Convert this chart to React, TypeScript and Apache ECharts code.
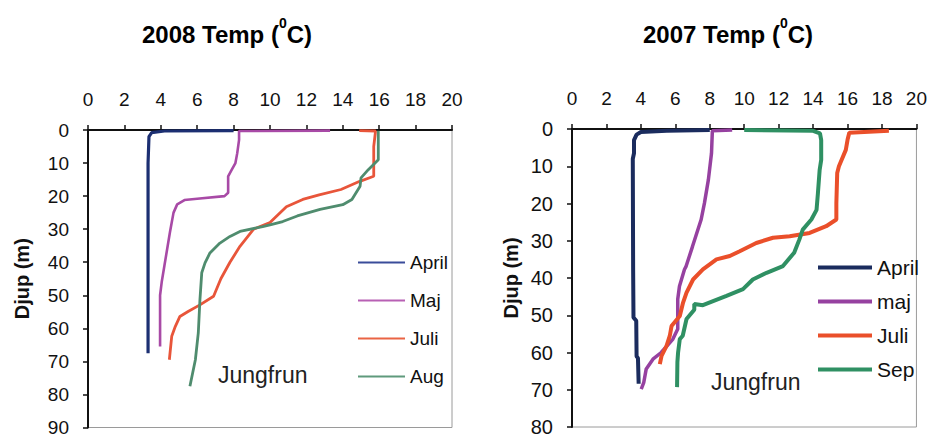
import React, { useEffect, useRef } from 'react';
import * as echarts from 'echarts';

const FONT = '"Liberation Sans", Arial, Helvetica, sans-serif';

// [temperature °C, depth m]
const april2008: number[][] = [[8.0,0.2],[4.2,0.3],[3.5,0.8],[3.35,2],[3.3,10],[3.3,67.5]];
const maj2008: number[][] = [[13.3,0.2],[8.3,0.3],[8.3,3],[8.2,7],[8.1,10],[7.9,12],[7.7,14],[7.7,19],[7.5,20],[6.0,20.8],[5.3,21.2],[4.9,22.5],[4.7,25],[4.6,28],[4.5,31],[4.35,36],[4.2,41],[4.05,46],[3.96,50],[3.96,65.5]];
const juli2008: number[][] = [[14.9,0.2],[15.8,0.3],[15.7,5],[15.7,14],[14.9,15.6],[13.9,18],[12.7,19.6],[11.8,21],[10.9,23.2],[10.0,28],[9.1,30],[8.35,35.2],[7.8,40],[7.3,45],[6.9,50.3],[6.15,52.9],[5.5,54.9],[5.05,56.4],[4.8,59.4],[4.6,62.4],[4.47,69.5]];
const aug2008: number[][] = [[15.95,0.2],[15.95,9],[15.4,12],[15.0,14.5],[14.95,17],[14.5,21],[14.0,22.6],[12.75,24],[11.5,26],[10.7,27.7],[10.0,28.7],[9.6,29.2],[8.35,30.7],[7.8,32.2],[7.25,34.2],[6.7,37.2],[6.43,40.2],[6.25,43.2],[6.15,51.4],[6.06,61.4],[5.9,69.5],[5.75,73.5],[5.6,77.5]];

const april2007: number[][] = [[8.0,0.3],[5.5,0.5],[4.0,0.8],[3.75,1.5],[3.6,3],[3.6,6.5],[3.53,8],[3.55,37.7],[3.57,50.6],[3.73,51.5],[3.75,61],[3.83,61.5],[3.87,68.4]];
const maj2007: number[][] = [[9.3,0.3],[8.15,0.5],[8.1,6.5],[7.92,13.6],[7.69,19.9],[7.5,24.3],[7.0,31.5],[6.63,36.8],[6.53,37.7],[6.24,42.2],[6.14,45.7],[6.14,53.7],[5.86,56.4],[5.18,60],[4.7,61.8],[4.31,64.4],[4.17,68],[4.02,69.8]];
const juli2007: number[][] = [[18.4,0.5],[16.1,1.0],[16.0,2.9],[15.9,5.6],[15.5,10],[15.4,11.8],[15.35,19.9],[15.35,24.3],[14.76,26.1],[13.8,27.9],[12.64,28.8],[11.67,29.2],[10.7,30.6],[9.74,32.8],[9.16,34.1],[8.39,35],[7.6,37.7],[7.03,40.4],[6.65,43.9],[6.45,46.6],[6.26,50.2],[5.78,52.9],[5.68,55.5],[5.49,58.2],[5.2,60.9],[5.1,63.1]];
const sep2007: number[][] = [[10.0,0.3],[14.0,0.5],[14.4,1.2],[14.47,3],[14.47,8.3],[14.38,11],[14.28,17.2],[14.2,21.7],[13.9,24.3],[13.4,27],[13.2,29.7],[12.9,33.2],[12.25,36.8],[11.3,38.6],[10.5,40.4],[9.93,43.0],[8.97,44.8],[7.6,47.3],[7.1,47.0],[7.1,48.5],[6.65,51],[6.43,55.5],[6.26,56.4],[6.16,60],[6.12,62.6],[6.1,69.3]];

const legend2008 = ['April', 'Maj', 'Juli', 'Aug'];
const legend2007 = ['April', 'maj', 'Juli', 'Sep'];
const colors2008 = ['#1c2f72', '#a84aa6', '#e8553a', '#4f8c6e'];
const legendColors2008 = ['#3a4c9a', '#b860b4', '#ea6444', '#5f9a7c'];
const colors2007 = ['#1b2c5e', '#9641a0', '#ea4f2a', '#2f9063'];

export default function App() {
  const ref = useRef<HTMLDivElement>(null);
  useEffect(() => {
    if (!ref.current) return;
    const chart = echarts.init(ref.current, null, { renderer: 'svg' });

    const xAxisBase = (gridIndex: number, fs: number) => ({
      type: 'value', gridIndex, position: 'top', min: 0, max: 20, interval: 2,
      axisLine: { show: true, lineStyle: { color: '#111', width: 2 } },
      axisTick: { show: true, length: 5, lineStyle: { color: '#111', width: 1.5 } },
      axisLabel: { fontFamily: FONT, fontSize: fs, color: '#111', margin: 21 },
      splitLine: { show: false },
    });
    const yAxisBase = (gridIndex: number, max: number, gap: number, fs: number) => ({
      type: 'value', gridIndex, inverse: true, min: 0, max, interval: 10,
      name: 'Djup (m)', nameLocation: 'middle', nameGap: gap,
      nameTextStyle: { fontFamily: FONT, fontSize: 20, fontWeight: 'bold', color: '#111' },
      axisLine: { show: true, lineStyle: { color: '#111', width: 2 } },
      axisTick: { show: true, length: 5, lineStyle: { color: '#111', width: 1.5 } },
      axisLabel: { fontFamily: FONT, fontSize: fs, color: '#111', margin: 19 },
      splitLine: { show: false },
    });

    const mk = (name: string, data: number[][], color: string, width: number, gi: number) => ({
      type: 'line', name, data, xAxisIndex: gi, yAxisIndex: gi,
      symbol: 'none', showSymbol: false, clip: false,
      lineStyle: { color, width }, itemStyle: { color },
    });

    const titleRich = { s: { fontSize: 14, fontWeight: 'bold', fontFamily: FONT, color: '#000', verticalAlign: 'top', lineHeight: 14 } };

    chart.setOption({
      animation: false,
      title: [
        { text: '2008 Temp ({s|0}C)', left: 227, top: 16, textAlign: 'center', padding: 0,
          textStyle: { fontFamily: FONT, fontSize: 24, fontWeight: 'bold', color: '#000', lineHeight: 36, rich: titleRich } },
        { text: '2007 Temp ({s|0}C)', left: 728, top: 16, textAlign: 'center', padding: 0,
          textStyle: { fontFamily: FONT, fontSize: 24, fontWeight: 'bold', color: '#000', lineHeight: 36, rich: titleRich } },
      ],
      grid: [
        { left: 88, top: 130, width: 364, height: 298, show: true, borderColor: '#9a9a9a', borderWidth: 1, backgroundColor: 'transparent' },
        { left: 572, top: 129, width: 345, height: 299, show: true, borderColor: '#9a9a9a', borderWidth: 1, backgroundColor: 'transparent' },
      ],
      xAxis: [xAxisBase(0, 19), xAxisBase(1, 19)],
      yAxis: [yAxisBase(0, 90, 56, 19), yAxisBase(1, 80, 51, 20)],
      legend: [
        {
          orient: 'vertical', left: 353, top: 248, itemWidth: 47, itemHeight: 2, itemGap: 19, icon: 'rect',
          textStyle: { fontFamily: FONT, fontSize: 19, color: '#111' },
          data: legend2008.map((n, i) => ({ name: n, icon: 'rect', itemStyle: { color: legendColors2008[i], borderWidth: 0 } })),
          selectedMode: false,
        },
        {
          orient: 'vertical', left: 813, top: 252, itemWidth: 54, itemHeight: 4, itemGap: 13, icon: 'rect',
          textStyle: { fontFamily: FONT, fontSize: 21, color: '#111' },
          data: legend2007.map((n, i) => ({ name: n, icon: 'rect', itemStyle: { color: colors2007[i], borderWidth: 0 } })),
          selectedMode: false,
        },
      ],
      graphic: [
        { type: 'text', x: 218, y: 375, style: { text: 'Jungfrun', fontFamily: FONT, fontSize: 23, fill: '#222', align: 'left', verticalAlign: 'middle', textAlign: 'left', textVerticalAlign: 'middle' } },
        { type: 'text', x: 711, y: 382, style: { text: 'Jungfrun', fontFamily: FONT, fontSize: 23, fill: '#222', align: 'left', verticalAlign: 'middle', textAlign: 'left', textVerticalAlign: 'middle' } },
      ],
      series: [
        mk('April', april2008, colors2008[0], 3.2, 0),
        mk('Maj', maj2008, colors2008[1], 2.6, 0),
        mk('Juli', juli2008, colors2008[2], 2.8, 0),
        mk('Aug', aug2008, colors2008[3], 2.8, 0),
        mk('April', april2007, colors2007[0], 4, 1),
        mk('maj', maj2007, colors2007[1], 3.5, 1),
        mk('Juli', juli2007, colors2007[2], 4, 1),
        mk('Sep', sep2007, colors2007[3], 4, 1),
      ],
    });
    return () => chart.dispose();
  }, []);
  return <div ref={ref} style={{ position: 'fixed', left: 0, top: 0, width: 930, height: 437, background: '#fff' }} />;
}
